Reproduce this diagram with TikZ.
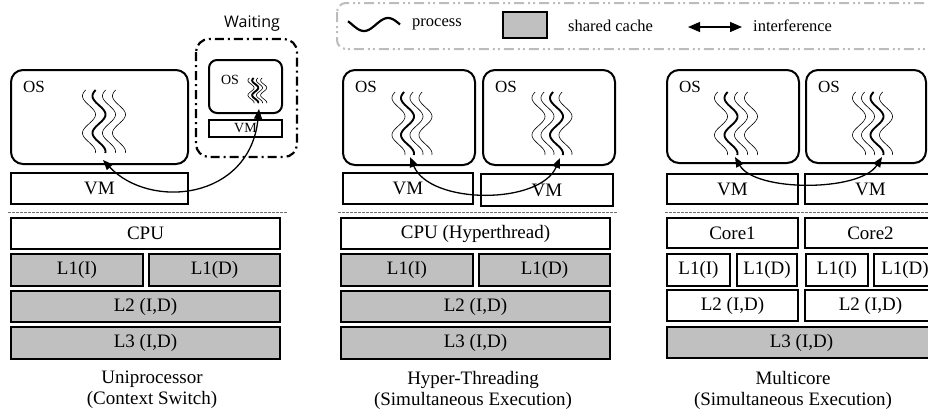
\documentclass[tikz,border=0pt]{standalone}
\usepackage{fontspec}
\setmainfont{Liberation Serif}
\newfontfamily\uifont{Open Sans}
\usetikzlibrary{arrows.meta,calc}
\definecolor{cachegray}{RGB}{192,192,192}
\definecolor{leggray}{RGB}{188,188,188}
\definecolor{dotgray}{RGB}{110,110,110}
\newcommand\bx[7]{\node[#1, minimum width={#5-#3}, minimum height={#6-#4}] (#2) at ({(#3+#5)/2},{(#4+#6)/2}) {#7};}
\newcommand\procset[6]{%
 \begin{scope}[shift={(#1,#2)}, xscale=#4, yscale=#5]
 \foreach \i in {0,1,2,3}{
   \pgfmathsetmacro\lw{ifthenelse(\i==#3,1.9,0.6)}
   \draw[line width=\lw pt] plot[domain=0:63, samples=60, smooth, variable=\t] ({\i*#6-6.5*cos(deg(2*pi*(\t-6)/37))},{\t});
 }
 \end{scope}}
\begin{document}
\begin{tikzpicture}[x=1pt,y=-1pt,
  box/.style={draw, line width=2.2pt, inner sep=0pt, font=\fontsize{19}{19}\selectfont},
  cache/.style={box, fill=cachegray},
  osbox/.style={draw, line width=2pt, rounded corners=12pt, inner sep=0pt},
  smallos/.style={draw, line width=2pt, rounded corners=8pt, inner sep=0pt},
  smallvm/.style={draw, line width=2pt, inner sep=0pt, font=\fontsize{14}{14}\selectfont},
  oslabel/.style={font=\fontsize{17}{17}\selectfont, inner sep=0pt},
  soslabel/.style={font=\fontsize{14}{14}\selectfont, inner sep=0pt},
  caption/.style={font=\fontsize{19}{21}\selectfont, align=center, inner sep=0pt},
  legtext/.style={font=\fontsize{16.5}{16.5}\selectfont, inner sep=0pt, anchor=west},
  sep/.style={draw=dotgray, line width=0.8pt, dash pattern=on 2.5pt off 1.5pt},
  iarrow/.style={line width=1.3pt, {Triangle[length=10pt,width=8pt]}-{Triangle[length=10pt,width=8pt]}},
]
\useasboundingbox (0,0) rectangle (928,410);
\clip (0,0) rectangle (928,410);

% ---------- legend ----------
\draw[leggray, line width=2pt, rounded corners=9pt, dash pattern=on 10pt off 4pt on 2pt off 3pt on 2pt off 4pt] (337,3) rectangle (945,49);
\draw[line width=2.2pt] plot[domain=348:400, samples=50, smooth, variable=\t] ({\t},{24.5+6.5*sin(deg(2*pi*(\t-352)/48))});
\node[legtext] (lproc) at (412,24) {process};
\bx{cache}{lcache}{503}{12}{547}{38}{}
\node[legtext] (lcachet) at (568,26) {shared cache};
\coordinate (la) at (688,27);
\coordinate (lb) at (742,27);
\draw[iarrow, {Triangle[length=12pt,width=10pt]}-{Triangle[length=12pt,width=10pt]}] (la) -- (lb);
\node[legtext] (linter) at (753,26) {interference};

% ---------- panel 1: uniprocessor ----------
\bx{osbox}{osA}{11}{70}{188}{164}{}
\node[oslabel] (osAt) at (34,87) {OS};
\bx{box}{vmA}{11}{173}{188}{204}{VM}
\draw[line width=2.2pt, rounded corners=13pt, dash pattern=on 9pt off 4pt on 2pt off 4pt] (196,39) rectangle (297,157);
\node[font=\uifont\fontsize{16}{16}\selectfont, inner sep=0pt] (wait) at (252,24) {Waiting};
\bx{smallos}{osW}{209}{60}{282}{113}{}
\node[soslabel] (osWt) at (230,80) {OS};
\bx{smallvm}{vmW}{209}{120}{282}{137}{VM}
\procset{89}{90}{1}{1}{1}{10}
\procset{251}{78}{1}{0.47}{0.4}{9}
\coordinate (pA) at (103,160);
\coordinate (pW) at (259,109);
\draw[iarrow] (pA) .. controls (150,210) and (250,200) .. (pW);
\draw[sep] (8,212) -- (287,212);
\bx{box}{cpuA}{11}{218}{280}{249}{CPU}
\bx{cache}{l1iA}{11}{254}{143}{286}{L1(I)}
\bx{cache}{l1dA}{149}{254}{280}{286}{L1(D)}
\bx{cache}{l2A}{11}{291}{280}{322}{L2 (I,D)}
\bx{cache}{l3A}{11}{327}{280}{359}{L3 (I,D)}
\node[caption] (capA) at (152,390) {Uniprocessor\\(Context Switch)};

% ---------- panel 2: hyper-threading ----------
\bx{osbox}{osB1}{343}{70}{475}{165}{}
\node[oslabel] (osB1t) at (366,87) {OS};
\bx{osbox}{osB2}{483}{70}{615}{165}{}
\node[oslabel] (osB2t) at (506,87) {OS};
\bx{box}{vmB1}{343}{173}{473}{204}{VM}
\bx{box}{vmB2}{481}{174}{613}{206}{VM}
\procset{398.5}{92}{1}{1}{1}{9}
\procset{538.5}{92}{2}{1}{1}{9}
\coordinate (pB1) at (410,157);
\coordinate (pB2) at (560,158);
\draw[iarrow] (pB1) .. controls (430,205) and (540,205) .. (pB2);
\draw[sep] (338,212) -- (617,212);
\bx{box}{cpuB}{341}{218}{610}{249}{CPU (Hyperthread)}
\bx{cache}{l1iB}{341}{254}{473}{286}{L1(I)}
\bx{cache}{l1dB}{479}{254}{610}{286}{L1(D)}
\bx{cache}{l2B}{341}{291}{610}{322}{L2 (I,D)}
\bx{cache}{l3B}{341}{327}{610}{359}{L3 (I,D)}
\node[caption] (capB) at (473,390) {Hyper-Threading\\(Simultaneous Execution)};

% ---------- panel 3: multicore ----------
\bx{osbox}{osC1}{667}{70}{799}{163}{}
\node[oslabel] (osC1t) at (690,87) {OS};
\bx{osbox}{osC2}{806}{70}{926}{163}{}
\node[oslabel] (osC2t) at (829,87) {OS};
\bx{box}{vmC1}{667}{174}{798}{204}{VM}
\bx{box}{vmC2}{805}{174}{936}{204}{VM}
\procset{721}{92}{1}{1}{1}{10}
\procset{859}{92}{2}{1}{1}{9}
\coordinate (pC1) at (735,157);
\coordinate (pC2) at (882,157);
\draw[iarrow] (pC1) .. controls (755,192) and (860,192) .. (pC2);
\draw[sep] (665,212) -- (928,212);
\bx{box}{core1}{667}{218}{798}{248}{Core1}
\bx{box}{core2}{805}{218}{936}{248}{Core2}
\bx{box}{l1iC1}{667}{254}{730}{286}{L1(I)}
\bx{box}{l1dC1}{737}{254}{797}{286}{L1(D)}
\bx{box}{l1iC2}{806}{254}{868}{286}{L1(I)}
\bx{box}{l1dC2}{874}{254}{936}{286}{L1(D)}
\bx{box}{l2C1}{667}{290}{798}{321}{L2 (I,D)}
\bx{box}{l2C2}{805}{290}{936}{321}{L2 (I,D)}
\bx{cache}{l3C}{667}{327}{936}{358}{L3 (I,D)}
\node[caption] (capC) at (793,390) {Multicore\\(Simultaneous Execution)};
\end{tikzpicture}
\end{document}
